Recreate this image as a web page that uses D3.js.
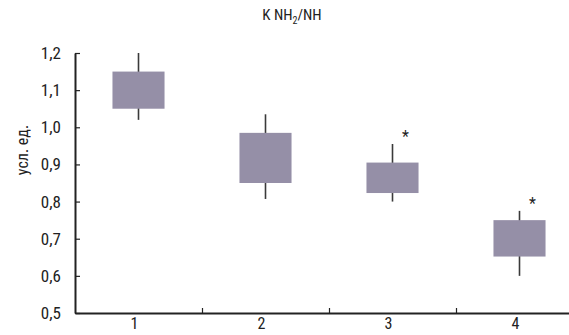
<!DOCTYPE html>
<html>
<head>
<meta charset="utf-8">
<script src="https://cdn.jsdelivr.net/npm/d3@7"></script>
<style>
body { margin: 0; background: #fff; }
svg text { font-family: "Liberation Sans Narrow", "Arial Narrow", "Roboto Condensed", sans-serif; fill: #222; }
</style>
</head>
<body>
<div id="chart"></div>
<script>
// values (усл. ед.)
var groups = ["1", "2", "3", "4"];
var whiskerHigh = [1.20, 1.035, 0.955, 0.775];
var boxHigh = [1.15, 0.985, 0.905, 0.75];
var boxLow = [1.05, 0.85, 0.823, 0.652];
var whiskerLow = [1.02, 0.807, 0.80, 0.60];
var marked = [false, false, true, true]; // asterisk
var yTicks = [0.5, 0.6, 0.7, 0.8, 0.9, 1.0, 1.1, 1.2];

var width = 569, height = 335;

var svg = d3.select("#chart")
	.append("svg")
	.attr("width", width)
	.attr("height", height);

var x = d3.scaleBand()
	.domain(groups)
	.range([75, 583]);

var xEdge = d3.scaleLinear()
	.domain([0, groups.length])
	.range([75, 583]);

var y = d3.scaleLinear()
	.domain([0.5, 1.2])
	.range([313, 53]);

var data = groups.map(function(g, i) {
	return {
		name: g,
		hi: whiskerHigh[i],
		q3: boxHigh[i],
		q1: boxLow[i],
		lo: whiskerLow[i],
		star: marked[i]
	};
});

var boxW = x.bandwidth() * 0.41;

// whiskers
svg.selectAll("line.whisker")
	.data(data)
	.enter()
	.append("line")
	.attr("class", "whisker")
	.attr("x1", function(d) { return x(d.name) + x.bandwidth() / 2; })
	.attr("x2", function(d) { return x(d.name) + x.bandwidth() / 2; })
	.attr("y1", function(d) { return y(d.hi); })
	.attr("y2", function(d) { return y(d.lo); })
	.style("stroke", "#3a3a3a")
	.style("stroke-width", 1.6);

// boxes
svg.selectAll("rect.box")
	.data(data)
	.enter()
	.append("rect")
	.attr("class", "box")
	.attr("x", function(d) { return x(d.name) + x.bandwidth() / 2 - boxW / 2; })
	.attr("y", function(d) { return y(d.q3); })
	.attr("width", boxW)
	.attr("height", function(d) { return y(d.q1) - y(d.q3); })
	.style("fill", "#958fa7");

// asterisks
svg.selectAll("text.star")
	.data(data.filter(function(d) { return d.star; }))
	.enter()
	.append("text")
	.attr("class", "star")
	.attr("x", function(d) { return x(d.name) + x.bandwidth() / 2 + 13; })
	.attr("y", function(d) { return y(d.hi) - 2; })
	.attr("text-anchor", "middle")
	.attr("font-size", "16px")
	.text("*");

// y axis
var yAxis = svg.append("g")
	.attr("transform", "translate(75,0)")
	.call(d3.axisLeft(y)
		.tickValues(yTicks)
		.tickSizeInner(-5)
		.tickSizeOuter(0)
		.tickPadding(14)
		.tickFormat(function(d) { return d3.format(".1f")(d).replace(".", ","); }));
yAxis.select(".domain").style("stroke", "#222").style("stroke-width", 2);
yAxis.selectAll(".tick line").style("stroke", "#222").style("stroke-width", 1.2);
yAxis.selectAll("text").attr("font-size", "17px").style("fill", "#222");

// x axis: ticks between groups, labels under each group
var xAxis = svg.append("g")
	.attr("transform", "translate(0,313)")
	.call(d3.axisBottom(xEdge)
		.tickValues([1, 2, 3])
		.tickSizeInner(-5)
		.tickSizeOuter(0)
		.tickFormat(""));
xAxis.select(".domain").style("stroke", "#222").style("stroke-width", 2.2);
xAxis.selectAll(".tick line").style("stroke", "#222").style("stroke-width", 1.2);

var xLabels = svg.append("g")
	.attr("transform", "translate(-4,312)")
	.call(d3.axisBottom(x).tickSize(0).tickPadding(6));
xLabels.select(".domain").remove();
xLabels.selectAll("text").attr("font-size", "16px").style("fill", "#222");

// y label
svg.append("text")
	.attr("transform", "translate(28,150) rotate(-90)")
	.attr("text-anchor", "middle")
	.attr("font-size", "16px")
	.text("усл. ед.");

// title
var title = svg.append("text")
	.attr("x", 292)
	.attr("y", 20)
	.attr("text-anchor", "middle")
	.attr("font-size", "15px");
title.append("tspan").text("K NH");
title.append("tspan").attr("font-size", "10px").attr("dy", 4).text("2");
title.append("tspan").attr("dy", -4).text("/NH");
</script>
</body>
</html>
